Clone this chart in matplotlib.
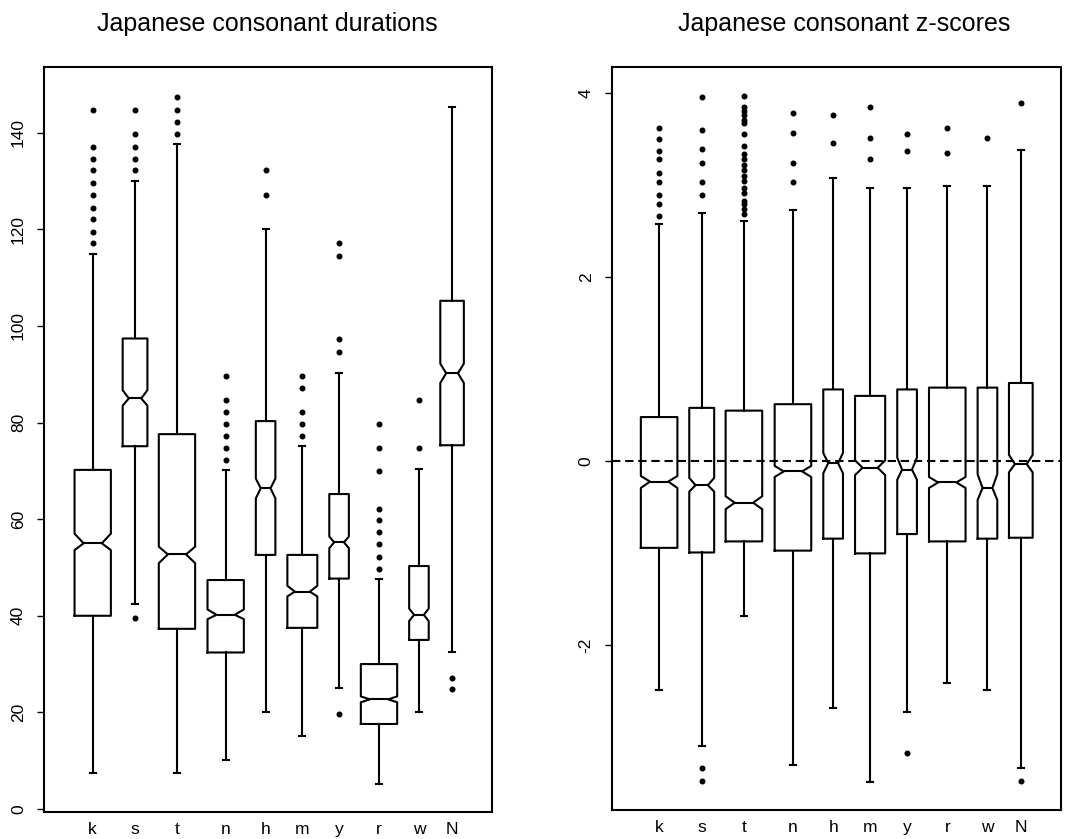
import matplotlib
matplotlib.use("Agg")
import matplotlib.pyplot as plt

plt.rcParams['font.family'] = ['Liberation Sans', 'DejaVu Sans']

# ---------------- data ----------------
consonants = ["k", "s", "t", "n", "h", "m", "y", "r", "w", "N"]

# Durations panel
dur_med = [55.0, 85.0, 52.7, 40.2, 66.4, 45.0, 55.2, 22.7, 40.2, 90.2]
dur_q1 = [40.0, 75.1, 37.3, 32.4, 52.6, 37.5, 47.7, 17.6, 35.0, 75.3]
dur_q3 = [70.2, 97.4, 77.6, 47.4, 80.3, 52.6, 65.2, 30.0, 50.3, 105.2]
dur_whislo = [7.5, 42.4, 7.5, 10.1, 20.0, 15.1, 25.0, 5.2, 20.0, 32.6]
dur_whishi = [114.8, 130.0, 137.6, 70.2, 120.0, 75.2, 90.2, 47.7, 70.3, 145.4]
dur_cilo = [53.6, 83.5, 50.9, 39.3, 64.3, 44.0, 54.0, 22.1, 38.9, 88.2]
dur_cihi = [57.0, 86.7, 54.3, 41.3, 68.4, 46.2, 56.4, 23.3, 41.5, 92.2]
dur_fliers = [
    [117.1, 119.5, 122.1, 124.5, 127.1, 129.6, 132.2, 134.6, 137.1, 144.8],
    [132.2, 134.6, 137.1, 139.7, 144.8, 39.5],
    [139.7, 142.3, 144.8, 147.4],
    [72.3, 74.8, 77.3, 79.8, 82.2, 84.7, 89.7],
    [127.1, 132.2],
    [77.3, 79.8, 82.2, 87.2, 89.7],
    [94.7, 97.2, 114.5, 117.1, 19.6],
    [49.7, 52.2, 54.8, 57.3, 59.8, 62.2, 70.0, 74.8, 79.8],
    [74.8, 84.7],
    [27.2, 24.8],
]

# z-scores panel
z_med = [-0.22, -0.26, -0.45, -0.11, -0.02, -0.07, -0.09, -0.23, -0.29, -0.03]
z_q1 = [-0.94, -0.99, -0.87, -0.97, -0.84, -1.00, -0.79, -0.87, -0.84, -0.83]
z_q3 = [0.48, 0.58, 0.55, 0.62, 0.78, 0.71, 0.78, 0.80, 0.80, 0.85]
z_whislo = [-2.48, -3.09, -1.68, -3.30, -2.68, -3.48, -2.72, -2.41, -2.48, -3.33]
z_whishi = [2.58, 2.70, 2.61, 2.73, 3.08, 2.97, 2.97, 2.99, 2.99, 3.38]
z_cilo = [-0.29, -0.33, -0.52, -0.17, -0.13, -0.15, -0.20, -0.29, -0.42, -0.12]
z_cihi = [-0.16, -0.18, -0.38, -0.05, 0.09, 0.01, 0.04, -0.17, -0.14, 0.07]
z_fliers = [
    [2.66, 2.79, 2.89, 3.03, 3.13, 3.28, 3.37, 3.50, 3.62],
    [2.89, 3.03, 3.24, 3.39, 3.60, 3.96, -3.33, -3.47],
    [2.69, 2.74, 2.79, 2.83, 2.91, 2.97, 3.04, 3.10, 3.16, 3.22, 3.28,
     3.34, 3.42, 3.55, 3.67, 3.71, 3.76, 3.80, 3.85, 3.97],
    [3.03, 3.24, 3.56, 3.78],
    [3.46, 3.76],
    [3.28, 3.51, 3.85],
    [3.37, 3.55, -3.17],
    [3.35, 3.62],
    [3.51],
    [3.89, -3.47],
]

dur_ticks = [0, 20, 40, 60, 80, 100, 120, 140]
z_ticks = [-2, 0, 2, 4]

titles = ["Japanese consonant durations", "Japanese consonant z-scores"]

# ---------------- layout ----------------
positions = [1, 2.06, 3.11, 4.33, 5.33, 6.25, 7.17, 8.17, 9.17, 10]
box_widths = [0.91, 0.62, 0.91, 0.91, 0.49, 0.75, 0.49, 0.91, 0.49, 0.59]

W, H = 1078, 839
fig = plt.figure(figsize=(W / 100, H / 100), dpi=100)
fig.patch.set_facecolor("white")


def make_stats(med, q1, q3, lo, hi, cilo, cihi, fl):
    out = []
    for i in range(len(med)):
        out.append(dict(med=med[i], q1=q1[i], q3=q3[i], whislo=lo[i], whishi=hi[i],
                        cilo=cilo[i], cihi=cihi[i], fliers=fl[i], label=consonants[i]))
    return out


def ax_rect(x0, x1, y0, y1):
    return [x0 / W, (H - y1) / H, (x1 - x0) / W, (y1 - y0) / H]


lw = 1.5
line_props = dict(color="black", linewidth=lw)
flier_props = dict(marker="o", markerfacecolor="black", markeredgecolor="black",
                   markersize=3.3, linestyle="none")


def draw(ax, stats, ticks, xlim, ylim):
    ax.bxp(stats, positions=positions, widths=box_widths, shownotches=True,
           showfliers=True, capwidths=[0.15] * len(stats),
           boxprops=line_props, whiskerprops=line_props, capprops=line_props,
           medianprops=line_props, flierprops=flier_props)
    ax.set_xlim(*xlim)
    ax.set_ylim(*ylim)
    ax.set_yticks(ticks)
    ax.set_yticklabels([str(t) for t in ticks], rotation=90, va="center")
    ax.set_xticks(positions)
    ax.set_xticklabels(consonants)
    ax.tick_params(axis="y", length=5, width=1.0, pad=8, labelsize=12.5, direction="out")
    ax.tick_params(axis="x", length=0, pad=7, labelsize=12.5)
    for s in ax.spines.values():
        s.set_linewidth(lw)
        s.set_color("black")


ax1 = fig.add_axes(ax_rect(44, 492, 67, 812))
draw(ax1, make_stats(dur_med, dur_q1, dur_q3, dur_whislo, dur_whishi,
                     dur_cilo, dur_cihi, dur_fliers),
     dur_ticks, (-0.22, 11.0), (-0.62, 153.6))

ax2 = fig.add_axes(ax_rect(611.7, 1061, 66.7, 810))
ax2.axhline(0, color="black", linewidth=lw, dashes=(4, 2.3), zorder=3)
draw(ax2, make_stats(z_med, z_q1, z_q3, z_whislo, z_whishi,
                     z_cilo, z_cihi, z_fliers),
     z_ticks, (-0.18, 11.0), (-3.786, 4.284))

fig.text(267.5 / W, 1 - 24 / H, titles[0], ha="center", va="center", fontsize=18)
fig.text(844 / W, 1 - 24 / H, titles[1], ha="center", va="center", fontsize=18)

fig.savefig("out.png", dpi=100, facecolor="white")
